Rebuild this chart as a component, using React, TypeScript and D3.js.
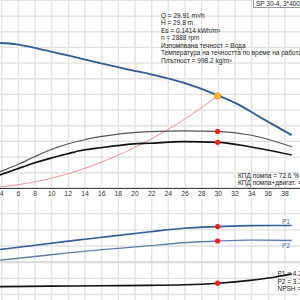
import React from "react";
import * as d3 from "d3";

// ---- data ----
const headQ = [3.8, 5.8, 7.8, 9.8, 11.8, 13.8, 15.8, 17.8, 19.8, 21.8, 25.8, 30, 32.6, 35, 38.8];
const headH = [36.56, 36.4, 35.98, 35.5, 35.0, 34.5, 34.0, 33.5, 33.05, 32.6, 31.5, 29.85, 28.6, 27.1, 24.8];

const sysQ = [0, 5, 10, 15, 20, 25, 29.91];
const sysH = [18.0, 18.33, 19.31, 20.95, 23.24, 26.19, 29.8];

const effQ = [3.8, 5.8, 7.8, 9.8, 11.8, 13.8, 15.8, 17.8, 19.8, 21.8, 25.8, 30, 33.8, 38.8];
const effPump = [21.3, 29.8, 39.6, 48.9, 56.2, 61.7, 65.9, 68.9, 71.0, 72.3, 73.4, 72.6, 68.0, 53.1];
const effTotal = [17.1, 24.7, 32.0, 38.3, 43.8, 48.9, 51.8, 54.4, 56.6, 57.5, 59.5, 58.7, 53.1, 42.5];

const powQ = [3.8, 8, 12, 16, 21.8, 25.8, 30, 33.8, 38.8];
const powP1 = [2.78, 3.05, 3.3, 3.54, 3.88, 4.1, 4.2, 4.26, 4.27];
const powP2 = [2.12, 2.35, 2.57, 2.77, 3.02, 3.2, 3.31, 3.36, 3.34];

const npshQ = [3.8, 9.8, 15.8, 21.8, 25.8, 30, 33.8, 37, 38.8];
const npshV = [0.97, 1.03, 1.08, 1.13, 1.2, 1.4, 1.75, 2.2, 2.55];

const xTicks = [4, 6, 8, 10, 12, 14, 16, 18, 20, 22, 24, 26, 28, 30, 32, 34, 36, 38];

const dutyQ = 29.91;
const dutyH = 29.8;
const dutyEffPump = 72.6;
const dutyEffTotal = 58.7;
const dutyP1 = 4.2;
const dutyP2 = 3.31;
const dutyNpsh = 1.4;

const infoLines = [
  "Q = 29.91 m³/h",
  "H = 29.8 m",
  "Es = 0.1414 kWh/m³",
  "n = 2888 rpm",
  "Изпомпвана течност = Вода",
  "Температура на течността по време на работа = 20 °C",
  "Плътност = 998.2 kg/m³",
];
const effLines = ["КПД помпа = 72.6 %", "КПД помпа+двигат. = 58.7 %"];
const powLines = ["P1 = 4.2 kW", "P2 = 3.31 kW", "NPSH = 1.4 m"];
const title = "SP 30-4, 3*400";

export default function App() {
  const W = 300, H = 300;
  const x = d3.scaleLinear().domain([0, 40]).range([-31.63, 301.7]);
  const yH = d3.scaleLinear().domain([18, 42]).range([188.4, 0.4]);
  const yE = d3.scaleLinear().domain([0, 100]).range([188.4, 109.9]);
  const yP = d3.scaleLinear().domain([0, 6]).range([294.5, 197.5]);
  const yN = d3.scaleLinear().domain([0, 12]).range([294.5, 197.5]);

  const mk = (xs: number[], ys: number[], ys2: (v: number) => number) =>
    d3.line<number>().x((_, i) => x(xs[i])).y((v) => ys2(v)).curve(d3.curveMonotoneX)(ys) || "";

  const font = "'Liberation Sans', Arial, sans-serif";
  const gridC = "#e2e2e2";
  const fs = 6.5;

  const hGridUpper = d3.range(18, 42.01, 2);
  const hGridLower = d3.range(0, 5.01, 1);
  const vGrid = xTicks;

  return (
    <svg width={W} height={H} style={{ position: "absolute", left: 0, top: 0, background: "#fff" }} fontFamily={font}>
      <rect x={0} y={0} width={W} height={H} fill="#fff" />
      {/* grids */}
      {vGrid.map((t) => (
        <line key={"vu" + t} x1={x(t)} x2={x(t)} y1={0} y2={188.4} stroke={gridC} strokeWidth={1.3} />
      ))}
      {vGrid.map((t) => (
        <line key={"vl" + t} x1={x(t)} x2={x(t)} y1={199} y2={300} stroke={gridC} strokeWidth={1.3} />
      ))}
      {hGridUpper.map((t) => (
        <line key={"hu" + t} x1={0} x2={W} y1={yH(t)} y2={yH(t)} stroke={gridC} strokeWidth={1.3} />
      ))}
      {hGridLower.map((t) => (
        <line key={"hl" + t} x1={0} x2={W} y1={yP(t)} y2={yP(t)} stroke={t === 2 ? "#dcdcdc" : gridC} strokeWidth={t === 2 ? 2.2 : 1.3} />
      ))}
      {/* axis */}
      <line x1={0} x2={W} y1={188.4} y2={188.4} stroke="#333" strokeWidth={1} />
      {xTicks.map((t) => (
        <text key={"xt" + t} x={x(t)} y={196} fontSize={6.8} textAnchor="middle" fill="#333">{t}</text>
      ))}

      {/* system curve */}
      <path d={mk(sysQ, sysH, yH)} fill="none" stroke="#ff8c8c" strokeWidth={1} />
      {/* efficiency */}
      <path d={mk(effQ, effPump, yE)} fill="none" stroke="#555" strokeWidth={1.2} />
      <path d={mk(effQ, effTotal, yE)} fill="none" stroke="#111" strokeWidth={1.7} />
      {/* head */}
      <path d={mk(headQ, headH, yH)} fill="none" stroke="#2c5d9c" strokeWidth={1.8} />
      {/* power */}
      <path d={mk(powQ, powP1, yP)} fill="none" stroke="#2f5f9a" strokeWidth={1.6} />
      <path d={mk(powQ, powP2, yP)} fill="none" stroke="#5b80b0" strokeWidth={1.3} />
      {/* npsh */}
      <path d={mk(npshQ, npshV, yN)} fill="none" stroke="#111" strokeWidth={1.6} />

      {/* duty points */}
      <circle cx={x(dutyQ)} cy={yE(dutyEffPump)} r={2.6} fill="#ff1a1a" />
      <circle cx={x(dutyQ)} cy={yE(dutyEffTotal)} r={2.6} fill="#ff1a1a" />
      <circle cx={x(dutyQ)} cy={yP(dutyP1)} r={2.6} fill="#ff1a1a" />
      <circle cx={x(dutyQ)} cy={yP(dutyP2)} r={2.6} fill="#ff1a1a" />
      <circle cx={x(dutyQ)} cy={yN(dutyNpsh)} r={2.6} fill="#ff1a1a" />
      <circle cx={x(dutyQ)} cy={yH(dutyH)} r={3.2} fill="#ffc400" stroke="#ff8a65" strokeWidth={1} />

      {/* labels */}
      <text x={282} y={224} fontSize={fs} fill="#4a6fa0">P1</text>
      <text x={282} y={247.5} fontSize={fs} fill="#4a6fa0">P2</text>

      {infoLines.map((s, i) => (
        <text key={"il" + i} x={161} y={17.5 + i * 7.5} fontSize={fs} fill="#222">{s}</text>
      ))}
      {effLines.map((s, i) => (
        <text key={"el" + i} x={238} y={177.5 + i * 7.7} fontSize={fs} fill="#222">{s}</text>
      ))}
      {powLines.map((s, i) => (
        <text key={"pl" + i} x={277.5} y={276 + i * 7.7} fontSize={fs} fill="#222">{s}</text>
      ))}

      <rect x={253.5} y={-5} width={60} height={12.5} fill="#fff" stroke="#999" strokeWidth={1} />
      <text x={256} y={6} fontSize={fs} fill="#222">{title}</text>
    </svg>
  );
}
